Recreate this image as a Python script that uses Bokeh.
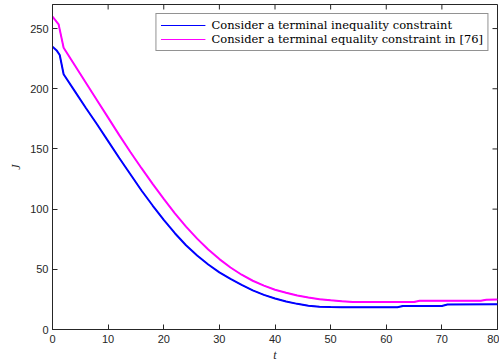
from bokeh.plotting import figure
from bokeh.models import Legend, LegendItem, FixedTicker, Range1d
from bokeh.embed import file_html
from bokeh.resources import INLINE

# Data
t_ineq = [0, 0.8, 1.3, 2, 4, 6, 8, 10, 12, 14, 16, 18, 20, 22, 24, 26, 28, 30,
          32, 34, 36, 38, 40, 42, 44, 46, 48, 50, 52, 62, 63, 70, 71, 80]
J_ineq = [235, 231.5, 228, 212, 198, 184, 170.5, 156.5, 142.5, 129, 115.5, 103,
          91, 80, 70, 61.5, 54, 47.5, 42, 37, 32.5, 28.8, 25.8, 23.3, 21.3, 19.8,
          18.9, 18.6, 18.5, 18.5, 19.6, 19.6, 20.8, 20.9]

t_eq = [0, 1.1, 2, 4, 6, 8, 10, 12, 14, 16, 18, 20, 22, 24, 26, 28, 30, 32, 34,
        36, 38, 40, 42, 44, 46, 48, 50, 52, 54, 65, 66, 77, 78, 80]
J_eq = [260, 253.5, 234, 219.5, 205, 190.5, 176, 161.5, 147.5, 134, 121, 108.5,
        96.5, 85.5, 75.5, 66.5, 58.5, 51.5, 45.5, 40.5, 36.5, 33, 30.5, 28.3,
        26.5, 25.2, 24.3, 23.5, 22.9, 22.8, 23.8, 23.9, 24.8, 24.9]

labels = ["Consider a terminal inequality constraint",
          "Consider a terminal equality constraint in [76]"]
x_ticks = [0, 10, 20, 30, 40, 50, 60, 70, 80]
y_ticks = [0, 50, 100, 150, 200, 250]

AX = "#262626"
X0, X1, Y0, Y1 = 0, 80, 0, 270
FW, FH = 445, 326
TICK = 5  # px

p = figure(width=499, height=364, output_backend="svg", toolbar_location=None,
           x_range=Range1d(X0, X1), y_range=Range1d(Y0, Y1),
           min_border_left=52, min_border_right=2, min_border_top=4,
           min_border_bottom=34)
p.grid.visible = False
p.outline_line_color = AX
p.outline_line_width = 1

r1 = p.line(t_ineq, J_ineq, line_color="#0000FF", line_width=2)
r2 = p.line(t_eq, J_eq, line_color="#FF00FF", line_width=2)
l1 = p.line(t_ineq, J_ineq, line_color="#0000FF", line_width=1)
l2 = p.line(t_eq, J_eq, line_color="#FF00FF", line_width=1)

# inward ticks on the top and right edges of the box
dy = TICK * (Y1 - Y0) / FH
dx = TICK * (X1 - X0) / FW
p.segment(x0=x_ticks, y0=[Y1] * len(x_ticks), x1=x_ticks,
          y1=[Y1 - dy] * len(x_ticks), line_color=AX, line_width=1)
p.segment(x0=[X1] * len(y_ticks), y0=y_ticks, x1=[X1 - dx] * len(y_ticks),
          y1=y_ticks, line_color=AX, line_width=1)

for ax in (p.xaxis[0], p.yaxis[0]):
    ax.axis_line_color = AX
    ax.major_tick_line_color = AX
    ax.major_tick_in = TICK
    ax.major_tick_out = 0
    ax.minor_tick_line_color = None
    ax.major_label_text_font = "Liberation Sans"
    ax.major_label_text_font_size = "11px"
    ax.major_label_text_color = AX
    ax.axis_label_text_font = "Liberation Serif"
    ax.axis_label_text_font_style = "italic"
    ax.axis_label_text_font_size = "12px"
    ax.axis_label_text_color = AX

p.xaxis[0].ticker = FixedTicker(ticks=x_ticks)
p.yaxis[0].ticker = FixedTicker(ticks=y_ticks)
p.xaxis[0].axis_label = "t"
p.yaxis[0].axis_label = "J"
p.xaxis[0].major_label_standoff = 5
p.xaxis[0].axis_label_standoff = 2
p.yaxis[0].major_label_standoff = 4
p.yaxis[0].axis_label_standoff = 4

legend = Legend(items=[LegendItem(label=labels[0], renderers=[l1]),
                       LegendItem(label=labels[1], renderers=[l2])],
                location="top_right", margin=9, padding=4, spacing=0,
                glyph_width=45, glyph_height=10, label_height=10,
                label_standoff=6, label_text_font="DejaVu Serif",
                label_text_font_size="11.5px", label_text_color="#000000",
                border_line_color=AX, border_line_width=1,
                background_fill_color="white", background_fill_alpha=1)
p.add_layout(legend, "center")

open("out.html", "w").write(file_html(p, INLINE))
